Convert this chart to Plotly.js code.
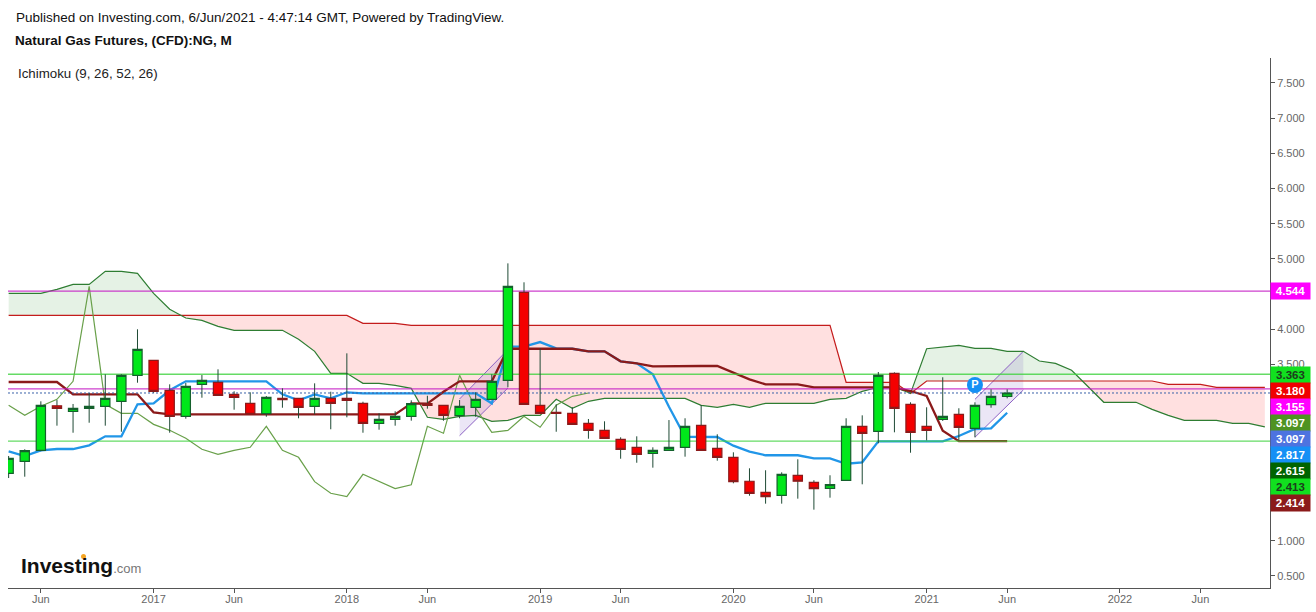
<!DOCTYPE html>
<html>
<head>
<meta charset="utf-8">
<script src="https://cdn.plot.ly/plotly-3.0.1.min.js"></script>
<style>html,body{margin:0;padding:0;background:#fff;overflow:hidden}#chart{width:1316px;height:612px}</style>
</head>
<body>
<div id="chart"></div>
<script>
// Month index: 0 = Jan 2016. Candles start at index 3 (Apr 2016), cloud runs on to index 81.
const firstMonth = 3;
const open  = [1.957,2.127,2.283,2.916,2.837,2.880,2.908,2.979,3.348,3.561,3.135,2.766,3.220,3.249,3.078,2.950,2.803,3.021,3.021,2.908,3.021,3.021,2.950,2.667,2.723,2.766,2.945,2.922,2.775,2.894,3.007,3.277,4.526,2.922,2.823,2.809,2.667,2.567,2.440,2.326,2.241,2.283,2.326,2.638,2.312,2.184,1.844,1.687,1.645,1.929,1.829,1.744,1.858,2.624,2.553,3.376,2.936,2.624,2.723,2.794,2.596,2.931,3.050];
const high  = [2.203,2.298,2.979,2.997,2.941,3.097,3.362,3.362,4.001,3.561,3.220,3.239,3.352,3.433,3.121,3.107,3.054,3.163,3.021,3.234,3.115,3.660,2.973,2.809,2.837,2.993,3.058,2.922,2.997,3.107,3.362,4.937,4.668,3.731,2.936,2.894,2.728,2.695,2.468,2.482,2.326,2.713,2.738,2.926,2.511,2.255,2.028,2.000,1.971,2.156,1.858,1.929,2.738,2.780,3.395,3.390,2.965,2.894,3.320,2.880,2.965,3.149,3.149];
const low   = [1.890,1.909,2.270,2.633,2.533,2.675,2.633,2.547,3.243,3.101,2.533,2.732,3.030,3.064,2.860,2.794,2.760,2.888,2.738,2.794,2.582,2.752,2.533,2.576,2.633,2.704,2.874,2.704,2.738,2.760,3.007,3.178,2.936,2.809,2.547,2.652,2.448,2.454,2.164,2.107,2.037,2.283,2.193,2.283,2.136,1.815,1.639,1.526,1.526,1.597,1.441,1.611,1.858,1.801,2.383,2.539,2.249,2.425,2.700,2.425,2.468,2.888,3.021];
const close = [2.170,2.278,2.922,2.880,2.880,2.908,3.021,3.348,3.717,3.121,2.766,3.192,3.277,3.064,3.036,2.794,3.036,3.002,2.894,3.021,2.950,2.993,2.667,2.723,2.766,2.945,2.922,2.780,2.908,3.007,3.263,4.611,2.936,2.809,2.809,2.652,2.567,2.454,2.298,2.227,2.283,2.326,2.624,2.283,2.184,1.838,1.673,1.625,1.943,1.844,1.739,1.795,2.624,2.525,3.348,2.880,2.539,2.567,2.766,2.610,2.922,3.050,3.097];
const tenkan = [2.269,2.203,2.283,2.302,2.302,2.354,2.482,2.482,2.936,2.950,3.135,3.263,3.263,3.263,3.263,3.263,3.263,3.078,2.993,3.078,3.021,3.107,3.092,3.092,3.092,3.092,3.092,3.092,3.092,3.092,2.950,3.754,3.754,3.820,3.731,3.725,3.688,3.688,3.547,3.518,3.362,2.902,2.476,2.472,2.472,2.349,2.264,2.213,2.213,2.213,2.170,2.170,2.093,2.113,2.411,2.411,2.411,2.411,2.411,2.486,2.586,2.596,2.817];
const kijun = [3.253,3.253,3.253,3.253,3.078,3.078,3.078,3.078,3.078,2.823,2.794,2.794,2.794,2.794,2.794,2.794,2.794,2.794,2.794,2.794,2.794,2.794,2.794,2.794,2.794,2.950,2.945,3.115,3.263,3.263,3.263,3.725,3.725,3.725,3.725,3.725,3.688,3.688,3.547,3.518,3.476,3.480,3.480,3.480,3.480,3.391,3.291,3.220,3.220,3.220,3.178,3.178,3.178,3.178,3.178,3.178,3.125,3.054,2.562,2.414,2.414,2.414,2.414];
const lagging = [2.922,2.780,2.908,3.007,3.263,4.611,2.936,2.809,2.809,2.652,2.567,2.454,2.298,2.227,2.283,2.326,2.624,2.283,2.184,1.838,1.673,1.625,1.943,1.844,1.739,1.795,2.624,2.525,3.348,2.880,2.539,2.567,2.766,2.610,2.922,3.050,3.097];
const senkouA = [4.512,4.512,4.512,4.568,4.639,4.639,4.824,4.824,4.795,4.512,4.285,4.161,4.128,4.043,3.987,3.987,3.987,3.987,3.859,3.688,3.376,3.376,3.234,3.234,3.206,3.163,2.752,2.723,2.766,2.780,2.695,2.709,2.780,2.780,3.007,2.880,2.979,3.021,3.021,3.021,3.021,3.021,3.021,2.922,2.894,2.936,2.894,2.950,2.950,2.950,2.950,3.007,3.021,3.121,3.178,3.178,3.092,3.725,3.745,3.774,3.731,3.731,3.688,3.688,3.551,3.518,3.419,3.186,2.965,2.965,2.965,2.865,2.780,2.709,2.709,2.709,2.667,2.667,2.615];
const senkouB = [4.199,4.199,4.199,4.199,4.199,4.199,4.199,4.199,4.199,4.199,4.199,4.199,4.199,4.199,4.199,4.199,4.199,4.199,4.199,4.199,4.199,4.199,4.086,4.086,4.086,4.057,4.057,4.057,4.057,4.057,4.057,4.057,4.057,4.057,4.057,4.057,4.057,4.057,4.057,4.057,4.057,4.057,4.057,4.057,4.057,4.057,4.057,4.057,4.057,4.057,4.057,4.057,3.249,3.249,3.249,3.249,3.090,3.267,3.267,3.267,3.267,3.267,3.267,3.267,3.267,3.267,3.267,3.267,3.267,3.267,3.267,3.267,3.220,3.220,3.220,3.178,3.178,3.178,3.178];
const levelsMagenta = [4.544,3.155];
const levelsGreen = [3.363,2.413];
const lastPrice = 3.097;
const channelMonths = [[31,34],[63,66]];
const channelUpper = [[3.012,3.712],[3.007,3.688]];
const channelLower = [[2.491,3.168],[2.469,3.139]];
const pinPoint = {x:63, y:3.21};
const tickMonths = [5,12,17,24,29,36,41,48,53,60,65,72,77];
const tickLabels = ['Jun','2017','Jun','2018','Jun','2019','Jun','2020','Jun','2021','Jun','2022','Jun'];
const priceTicks = [0.5,1,3.5,4,5,5.5,6,6.5,7,7.5];
const priceTags = [
  ['4.544','#ff00ff','#ffffff'],['3.363','#11e01f','#1d3d1d'],['3.180','#f00000','#ffffff'],
  ['3.155','#ff00ff','#ffffff'],['3.097','#4f9322','#ffffff'],['3.097','#4d73e0','#ffffff'],
  ['2.817','#1590f5','#ffffff'],['2.615','#006400','#ffffff'],['2.413','#11e01f','#1d3d1d'],['2.414','#8b1a1a','#ffffff']
];

const months = (n) => Array.from({length:n}, (_,k) => firstMonth + k);
const xRange = [2.96, 81.32];
const yRange = [0.329, 7.852];
const PLOT = {l:8, r:1270, t:58, b:588};
const px = (x) => (x - PLOT.l) / (PLOT.r - PLOT.l);
const py = (y) => (PLOT.b - y) / (PLOT.b - PLOT.t);
const FONT = '"Liberation Sans", Arial, sans-serif';

// Split the cloud where the two spans cross, so each colour can fill up to the crossing.
function cloud() {
  const xs=[], a=[], b=[];
  senkouA.forEach((v,k) => {
    const x = firstMonth + k;
    if (k > 0) {
      const d0 = senkouA[k-1]-senkouB[k-1], d1 = v-senkouB[k];
      if (d0*d1 < 0) {
        const t = d0/(d0-d1), val = senkouB[k-1]+t*(senkouB[k]-senkouB[k-1]);
        xs.push(x-1+t); a.push(val); b.push(val);
      }
    }
    xs.push(x); a.push(v); b.push(senkouB[k]);
  });
  return {xs, a, b};
}
const c = cloud();
const hidden = {hoverinfo:'skip', showlegend:false};
const traces = [];
traces.push({x:c.xs, y:c.b, mode:'lines', line:{width:0}, ...hidden});
traces.push({x:c.xs, y:c.a.map((v,k)=>Math.max(v,c.b[k])), mode:'lines', line:{width:0}, fill:'tonexty', fillcolor:'rgba(0,128,0,0.1)', ...hidden});
traces.push({x:c.xs, y:c.b, mode:'lines', line:{width:0}, ...hidden});
traces.push({x:c.xs, y:c.a.map((v,k)=>Math.min(v,c.b[k])), mode:'lines', line:{width:0}, fill:'tonexty', fillcolor:'rgba(255,0,0,0.12)', ...hidden});

channelMonths.forEach((m,k) => {
  traces.push({x:[m[0],m[1],m[1],m[0],m[0]], y:[channelUpper[k][0],channelUpper[k][1],channelLower[k][1],channelLower[k][0],channelUpper[k][0]],
    mode:'lines', line:{width:0}, fill:'toself', fillcolor:'rgba(103,58,183,0.13)', ...hidden});
  traces.push({x:[m[0],m[1],null,m[0],m[1]], y:[channelUpper[k][0],channelUpper[k][1],null,channelLower[k][0],channelLower[k][1]],
    mode:'lines', line:{color:'#8d62c4', width:1}, ...hidden});
});

traces.push({x:months(senkouB.length), y:senkouB, mode:'lines', line:{color:'#c41c1c', width:1.2}, ...hidden});
traces.push({x:months(senkouA.length), y:senkouA, mode:'lines', line:{color:'#2e7d32', width:1.2}, ...hidden});
traces.push({x:months(lagging.length), y:lagging, mode:'lines', line:{color:'#69a04a', width:1.2}, ...hidden});
traces.push({x:months(tenkan.length), y:tenkan, mode:'lines', line:{color:'#2196e8', width:2.3}, ...hidden});
traces.push({x:months(kijun.length), y:kijun, mode:'lines', line:{color:'#8b1a1a', width:2.3}, ...hidden});

levelsGreen.forEach(v => traces.push({x:xRange, y:[v,v], mode:'lines', opacity:0.8, line:{color:'#3ed23e', width:1.3}, ...hidden}));
levelsMagenta.forEach(v => traces.push({x:xRange, y:[v,v], mode:'lines', opacity:0.85, line:{color:'#c41ec4', width:1.2}, ...hidden}));
traces.push({x:xRange, y:[lastPrice,lastPrice], mode:'lines', line:{color:'#3a62a8', width:1, dash:'2px,2px'}, ...hidden});

// Wicks sit under the bodies and share one dark colour, whichever way the candle closed.
const wickX=[], wickY=[];
high.forEach((h,k) => { wickX.push(firstMonth+k, firstMonth+k, null); wickY.push(h, low[k], null); });
traces.push({x:wickX, y:wickY, mode:'lines', line:{color:'#1f4a35', width:1}, ...hidden});

// Candle bodies on an overlaid axis, so that they are drawn above every line.
traces.push({type:'candlestick', x:months(open.length), open:open, close:close,
  high:open.map((v,k)=>Math.max(v,close[k])), low:open.map((v,k)=>Math.min(v,close[k])),
  yaxis:'y2', whiskerwidth:0,
  increasing:{line:{color:'#14602c', width:1.2}, fillcolor:'#00e81a'},
  decreasing:{line:{color:'#8b1a1a', width:1.2}, fillcolor:'#f40000'},
  ...hidden});
traces.push({x:[pinPoint.x], y:[pinPoint.y], yaxis:'y2', mode:'markers+text', text:['<b>P</b>'], textposition:'middle center',
  textfont:{color:'#ffffff', size:11, family:FONT}, marker:{color:'#1590f5', size:16}, ...hidden});

const annotations = [
  {xref:'paper', yref:'paper', x:px(13), y:py(40), xanchor:'left', yanchor:'middle', showarrow:false,
   text:'<b>Natural Gas Futures, (CFD):NG, M</b>', font:{family:FONT, size:13.5, color:'#111'}},
  {xref:'paper', yref:'paper', x:px(16), y:py(73), xanchor:'left', yanchor:'middle', showarrow:false,
   text:'Ichimoku (9, 26, 52, 26)', font:{family:FONT, size:13.3, color:'#222'}},
  {xref:'paper', yref:'paper', x:px(19), y:py(565), xanchor:'left', yanchor:'middle', showarrow:false,
   text:'<b>Investing</b><span style="font-size:13px;color:#777">.com</span>', font:{family:FONT, size:21, color:'#111'}}
];
priceTags.forEach((t,k) => annotations.push({
  xref:'paper', yref:'paper', x:px(1270), y:py(291 + (k === 0 ? 0 : 84 + (k-1)*16)), xanchor:'left', yanchor:'middle',
  showarrow:false, text:'<b>'+t[0]+'</b>', width:39, height:16, align:'center', bgcolor:t[1], borderpad:0,
  font:{family:FONT, size:11.5, color:t[2]}
}));

const layout = {
  width:1316, height:612, paper_bgcolor:'#ffffff', plot_bgcolor:'#ffffff',
  margin:{l:PLOT.l, r:1316-PLOT.r, t:PLOT.t, b:612-PLOT.b}, showlegend:false, boxgap:0.18,
  title:{text:'Published on Investing.com, 6/Jun/2021 - 4:47:14 GMT, Powered by TradingView.',
    x:16/1316, xanchor:'left', xref:'container', y:1-17/612, yanchor:'middle', yref:'container',
    font:{family:FONT, size:13.5, color:'#111'}},
  xaxis:{range:xRange, rangeslider:{visible:false}, tickmode:'array', tickvals:tickMonths, ticktext:tickLabels,
    showgrid:false, zeroline:false, showline:true, linecolor:'#555', linewidth:1, ticks:'outside', ticklen:4, tickcolor:'#555',
    ticklabelstandoff:-3, tickfont:{family:FONT, size:11, color:'#666'}},
  yaxis:{range:yRange, side:'right', tickmode:'array', tickvals:priceTicks, ticktext:priceTicks.map(v=>v.toFixed(3)),
    showgrid:false, zeroline:false, showline:true, linecolor:'#555', linewidth:1, ticks:'outside', ticklen:4, tickcolor:'#555',
    tickfont:{family:FONT, size:11, color:'#666'}},
  yaxis2:{range:yRange, overlaying:'y', side:'right', visible:false, fixedrange:true},
  annotations:annotations,
  shapes:[{type:'circle', xref:'paper', yref:'paper', x0:px(81), x1:px(86), y0:py(559), y1:py(554), fillcolor:'#f5a623', line:{width:0}}]
};
Plotly.newPlot('chart', traces, layout, {displayModeBar:false, staticPlot:true});
</script>
</body>
</html>
